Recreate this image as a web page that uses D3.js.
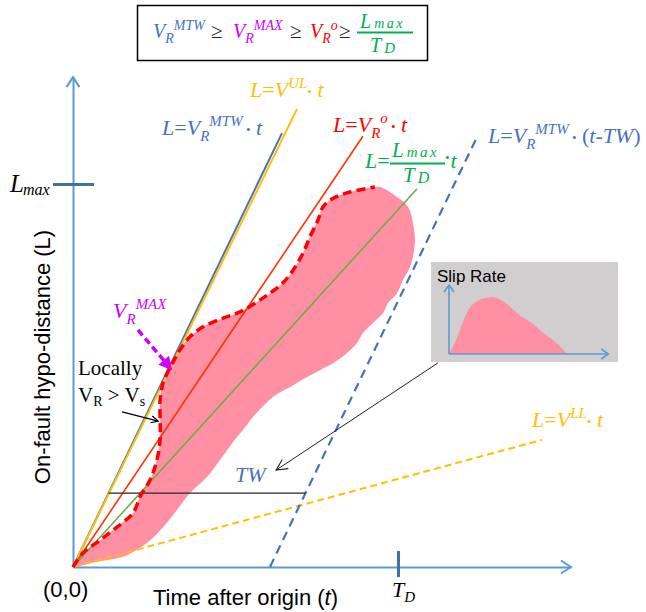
<!DOCTYPE html>
<html>
<head>
<meta charset="utf-8">
<script src="https://cdn.jsdelivr.net/npm/d3@7"></script>
<style>
  body { margin: 0; background: #fff; }
  svg { display: block; }
</style>
</head>
<body>
<svg id="chart" width="646" height="612"></svg>
<script>
// ---- Reference quantities (t in units of T_D, L in units of L_max) ----
const T_D = 1;
const L_MAX = 1;
const tAxisEnd = 1.532;
const lAxisEnd = 1.279;

// Rays L = V * t from the origin
const rayKeys  = ["MTW", "UL", "Ro", "mean", "LL"];
const raySpeed = [1.762, 1.735, 1.261, 0.933, 0.230];
const rayStopT = [0.643, 0.689, 0.892, 1.058, 1.443];

// Delayed ray L = V_R^MTW * (t - TW)
const TW = 0.606;
const delayedStopT = 1.246;
const twBarL = 0.193;

// Outline of the slipping region in the (t, L) plane;
// the first `frontLength` points form the rupture front
const ruptureT = [0, 0.031, 0.083, 0.135, 0.185, 0.206, 0.237, 0.258, 0.268, 0.268, 0.268, 0.277,
  0.308, 0.329, 0.360, 0.400, 0.462, 0.514, 0.566, 0.606, 0.646, 0.677, 0.708, 0.729, 0.754,
  0.769, 0.797, 0.852, 0.929,
  0.945, 0.997, 1.031, 1.046, 1.052, 1.037, 1.015, 0.997, 0.969, 0.954, 0.923, 0.892, 0.874,
  0.843, 0.806, 0.760, 0.720, 0.668, 0.615, 0.554, 0.535, 0.492, 0.452, 0.412, 0.360, 0.320,
  0.277, 0.228, 0.166, 0.105, 0.052];
const ruptureL = [0, 0.037, 0.070, 0.104, 0.141, 0.183, 0.227, 0.279, 0.332, 0.384, 0.436, 0.480,
  0.535, 0.567, 0.601, 0.627, 0.650, 0.666, 0.692, 0.715, 0.742, 0.775, 0.820, 0.862, 0.906,
  0.940, 0.961, 0.979, 0.992,
  0.992, 0.966, 0.940, 0.898, 0.846, 0.783, 0.749, 0.715, 0.689, 0.663, 0.637, 0.611, 0.585,
  0.559, 0.535, 0.514, 0.496, 0.470, 0.444, 0.392, 0.371, 0.326, 0.279, 0.235, 0.193, 0.149,
  0.104, 0.063, 0.031, 0.018, 0.010];
const frontLength = 29;

// Slip-rate pulse (normalised time, normalised rate)
const slipTau  = [0, 0.07, 0.15, 0.26, 0.37, 0.47, 0.60, 0.69, 0.81, 0.92, 1.0];
const slipRate = [0, 0.30, 0.72, 0.95, 1.00, 0.91, 0.68, 0.56, 0.35, 0.18, 0];
const slipTauEnd = 1.35, slipRateEnd = 1.21;

// Annotation arrows (t, L)
const vmaxArrowT = [0.200, 0.305], vmaxArrowL = [0.619, 0.514];
const localArrowT = [0.151, 0.262], localArrowL = [0.405, 0.381];
const twArrowT = [1.123, 0.625], twArrowL = [0.533, 0.253];

// ---- Styling ----
const C = {
  axis: "#5b9bd5", tick: "#41719c", blue: "#4472c4", yellow: "#ffc000",
  red: "#ff0000", redLine: "#ff3300", green: "#00b050", greenLine: "#70ad47",
  purple: "#cc00ff", pink: "#ff8fa3", gray: "#d0cece", ink: "#000"
};
const SERIF = "'Liberation Serif', 'Times New Roman', serif";
const SANS = "'Liberation Sans', Arial, sans-serif";

const svg = d3.select("#chart");
const x = d3.scaleLinear().domain([0, T_D]).range([73, 398]);
const y = d3.scaleLinear().domain([0, L_MAX]).range([567, 184]);

// text with sub/superscript parts: [string, {size, dy, up, color, ls, dx}]
function rich(parent, px, py, parts, base) {
  const t = parent.append("text").attr("x", px).attr("y", py)
    .attr("font-family", base.family || SERIF)
    .attr("font-size", base.size)
    .attr("font-style", base.italic === false ? "normal" : "italic")
    .attr("fill", base.color);
  let off = 0;
  parts.forEach(([s, o = {}]) => {
    const ts = t.append("tspan").text(s);
    const d = o.dy || 0;
    if (d - off !== 0) ts.attr("dy", d - off);
    off = d;
    if (o.size) ts.attr("font-size", o.size);
    if (o.up) ts.attr("font-style", "normal");
    if (o.color) ts.attr("fill", o.color);
    if (o.ls) ts.attr("letter-spacing", o.ls);
    if (o.dx) ts.attr("dx", o.dx);
  });
  return t;
}

function arrowHead(g, tip, from, len, half, color, width, filled) {
  const ang = Math.atan2(tip[1] - from[1], tip[0] - from[0]);
  const ux = Math.cos(ang), uy = Math.sin(ang);
  const bx = tip[0] - ux * len, by = tip[1] - uy * len;
  const p1 = [bx - uy * half, by + ux * half], p2 = [bx + uy * half, by - ux * half];
  if (filled) {
    g.append("path").attr("d", `M${p1}L${tip}L${p2}Z`).attr("fill", color);
  } else {
    g.append("path").attr("d", `M${p1}L${tip}L${p2}`).attr("fill", "none")
      .attr("stroke", color).attr("stroke-width", width).attr("stroke-linejoin", "miter");
  }
}

// ---- Slipping region ----
const rupturePts = ruptureT.map((t, i) => [t, ruptureL[i]]);
svg.append("path")
  .attr("d", d3.line().x(d => x(d[0])).y(d => y(d[1])).curve(d3.curveCatmullRomClosed)(rupturePts))
  .attr("fill", C.pink);

// ---- Axes ----
const xAxisScale = x.copy().domain([0, tAxisEnd]).range([x(0), x(tAxisEnd)]);
const yAxisScale = y.copy().domain([0, lAxisEnd]).range([y(0), y(lAxisEnd)]);

const gx = svg.append("g").attr("transform", `translate(0,${y(0)})`)
  .call(d3.axisBottom(xAxisScale).tickValues([T_D]).tickFormat(() => "").tickSizeOuter(0));
gx.select(".domain").attr("stroke", C.axis).attr("stroke-width", 2);
gx.selectAll(".tick line").attr("y1", -16).attr("y2", 10).attr("stroke", C.tick).attr("stroke-width", 3);

const gy = svg.append("g").attr("transform", `translate(${x(0)},0)`)
  .call(d3.axisLeft(yAxisScale).tickValues([L_MAX]).tickFormat(() => "").tickSizeOuter(0));
gy.select(".domain").attr("stroke", C.axis).attr("stroke-width", 2);
gy.selectAll(".tick line").attr("x1", -20).attr("x2", 21).attr("stroke", C.tick).attr("stroke-width", 3);

arrowHead(svg, [x(tAxisEnd), y(0)], [x(0), y(0)], 10, 6.5, C.axis, 2, false);
arrowHead(svg, [x(0), y(lAxisEnd)], [x(0), y(0)], 10, 6.5, C.axis, 2, false);

// ---- Rays ----
const rayStyle = {
  MTW: { color: C.blue, width: 2, dash: null },
  UL: { color: C.yellow, width: 2, dash: null },
  Ro: { color: C.redLine, width: 1.6, dash: null },
  mean: { color: C.greenLine, width: 1.6, dash: null },
  LL: { color: C.yellow, width: 2, dash: "7,4" }
};
const lineGen = d3.line().x(d => x(d[0])).y(d => y(d[1]));
rayKeys.forEach((k, i) => {
  const st = rayStyle[k];
  svg.append("path")
    .attr("d", lineGen([[0, 0], [rayStopT[i], raySpeed[i] * rayStopT[i]]]))
    .attr("fill", "none").attr("stroke", st.color).attr("stroke-width", st.width)
    .attr("stroke-dasharray", st.dash);
});

// delayed ray
const vMTW = raySpeed[0];
svg.append("path")
  .attr("d", lineGen([[TW, 0], [delayedStopT, vMTW * (delayedStopT - TW)]]))
  .attr("fill", "none").attr("stroke", C.blue).attr("stroke-width", 2.2)
  .attr("stroke-dasharray", "9,6");

// TW span between the two MTW rays
svg.append("path")
  .attr("d", lineGen([[twBarL / vMTW, twBarL], [TW + twBarL / vMTW, twBarL]]))
  .attr("stroke", "#262626").attr("stroke-width", 1.4);

// ---- Rupture front ----
svg.append("path")
  .attr("d", d3.line().x(d => x(d[0])).y(d => y(d[1])).curve(d3.curveCatmullRom)(rupturePts.slice(0, frontLength)))
  .attr("fill", "none").attr("stroke", C.red).attr("stroke-width", 3.5)
  .attr("stroke-dasharray", "9,5");

// ---- Annotation arrows ----
{
  const a = [x(vmaxArrowT[0]), y(vmaxArrowL[0])], b = [x(vmaxArrowT[1]), y(vmaxArrowL[1])];
  const ang = Math.atan2(b[1] - a[1], b[0] - a[0]);
  const bb = [b[0] - Math.cos(ang) * 10, b[1] - Math.sin(ang) * 10];
  svg.append("path").attr("d", `M${a}L${bb}`).attr("stroke", C.purple)
    .attr("stroke-width", 3.5).attr("stroke-dasharray", "7,4");
  arrowHead(svg, b, a, 13, 7, C.purple, 0, true);
}
{
  const a = [x(localArrowT[0]), y(localArrowL[0])], b = [x(localArrowT[1]), y(localArrowL[1])];
  svg.append("path").attr("d", `M${a}L${b}`).attr("stroke", C.ink).attr("stroke-width", 1.2);
  arrowHead(svg, b, a, 7, 3.5, C.ink, 1.2, false);
}
{
  const a = [x(twArrowT[0]), y(twArrowL[0])], b = [x(twArrowT[1]), y(twArrowL[1])];
  svg.append("path").attr("d", `M${a}L${b}`).attr("stroke", "#222").attr("stroke-width", 1);
  arrowHead(svg, b, a, 11, 5.5, "#222", 1.1, false);
}

// ---- Slip-rate inset ----
const inset = svg.append("g");
inset.append("rect").attr("x", 431).attr("y", 262).attr("width", 187).attr("height", 100).attr("fill", C.gray);
const sx = d3.scaleLinear().domain([0, 1]).range([449, 567]);
const sy = d3.scaleLinear().domain([0, 1]).range([354, 297]);
inset.append("path")
  .attr("d", d3.area().x((d, i) => sx(slipTau[i])).y0(sy(0)).y1((d, i) => sy(d)).curve(d3.curveMonotoneX)(slipRate))
  .attr("fill", C.pink);
inset.append("path").attr("d", `M${sx(0)},${sy(0)}H${sx(slipTauEnd)}`).attr("stroke", C.axis).attr("stroke-width", 1.6);
inset.append("path").attr("d", `M${sx(0)},${sy(0)}V${sy(slipRateEnd)}`).attr("stroke", C.axis).attr("stroke-width", 1.6);
arrowHead(inset, [sx(slipTauEnd), sy(0)], [sx(0), sy(0)], 7, 5, C.axis, 1.6, false);
arrowHead(inset, [sx(0), sy(slipRateEnd)], [sx(0), sy(0)], 7, 5, C.axis, 1.6, false);
inset.append("text").attr("x", 437).attr("y", 282).attr("font-family", SANS).attr("font-size", 17)
  .attr("fill", C.ink).text("Slip Rate");

// ---- Formula box ----
const box = svg.append("g");
box.append("rect").attr("x", 137.5).attr("y", 5.5).attr("width", 290).attr("height", 55)
  .attr("fill", "#fff").attr("stroke", "#000").attr("stroke-width", 1.5);
rich(box, 153, 38, [["V"], ["R", { size: 14, dy: 5 }], ["MTW", { size: 14, dy: -8 }]], { size: 20, color: C.blue });
rich(box, 211, 38, [["≥"]], { size: 21, color: "#222", italic: false });
rich(box, 233, 38, [["V"], ["R", { size: 14, dy: 5 }], ["MAX", { size: 14, dy: -8 }]], { size: 20, color: C.purple });
rich(box, 290, 38, [["≥"]], { size: 21, color: "#222", italic: false });
rich(box, 310, 38, [["V"], ["R", { size: 14, dy: 5 }], ["o", { size: 14, dy: -8 }]], { size: 20, color: C.red });
rich(box, 339, 38, [["≥"]], { size: 21, color: "#222", italic: false });
rich(box, 360, 28, [["L"], ["max", { size: 14, ls: 2.5, dx: 3 }]], { size: 20, color: C.green });
box.append("path").attr("d", "M357,32.5H413").attr("stroke", C.green).attr("stroke-width", 2);
rich(box, 370, 52, [["T"], ["D", { size: 15, dy: 1, dx: 3 }]], { size: 20, color: C.green });

// ---- Ray labels ----
rich(svg, 162, 135, [["L"], ["=", { up: 1 }], ["V"], ["R", { size: 15, dy: 6 }], ["MTW", { size: 15, dy: -9 }],
  [" •", { size: 13, dy: -1, up: 1 }], [" t", { dy: 0 }]], { size: 22, color: C.blue });
rich(svg, 250, 97, [["L"], ["=", { up: 1 }], ["V"], ["UL", { size: 15, dy: -9 }],
  ["•", { size: 13, dy: -1, up: 1 }], [" t", { dy: 0 }]], { size: 22, color: C.yellow });
rich(svg, 333, 132, [["L"], ["=", { up: 1 }], ["V"], ["R", { size: 15, dy: 6 }], ["o", { size: 15, dy: -9 }],
  [" •", { size: 13, dy: -1, up: 1 }], [" t", { dy: 0 }]], { size: 22, color: C.red });
// green label with fraction
rich(svg, 365, 168, [["L"], ["=", { up: 1 }]], { size: 22, color: C.green });
rich(svg, 392, 157, [["L"], ["max", { size: 15, ls: 2.5, dx: 3 }]], { size: 21, color: C.green });
svg.append("path").attr("d", "M390,163.5H445").attr("stroke", C.green).attr("stroke-width", 2.2);
rich(svg, 403, 182, [["T"], ["D", { size: 16, dy: 1, dx: 3 }]], { size: 21, color: C.green });
rich(svg, 445, 168, [["•", { size: 13, dy: -6, up: 1 }], ["t", { dy: 0, dx: 1 }]], { size: 22, color: C.green });
rich(svg, 488, 143, [["L"], ["=", { up: 1 }], ["V"], ["R", { size: 15, dy: 6 }], ["MTW", { size: 15, dy: -9 }],
  [" •", { size: 13, dy: -1, up: 1 }], [" (", { dy: 0, up: 1 }], ["t-TW"], [")", { up: 1 }]], { size: 22, color: C.blue });
rich(svg, 532, 427, [["L"], ["=", { up: 1 }], ["V"], ["LL", { size: 15, dy: -9 }],
  ["•", { size: 13, dy: -1, up: 1 }], [" t", { dy: 0 }]], { size: 22, color: C.yellow });

// ---- Other annotations ----
rich(svg, 113, 318, [["V"], ["R", { size: 15, dy: 6 }], ["MAX", { size: 15, dy: -9 }]], { size: 22, color: C.purple });
rich(svg, 235, 482, [["TW"]], { size: 22, color: C.blue });
rich(svg, 78, 375, [["Locally"]], { size: 21, color: C.ink, italic: false });
rich(svg, 78, 402, [["V"], ["R", { size: 14, dy: 4 }], [" > ", { dy: 0 }], ["V"], ["s", { size: 14, dy: 4 }]],
  { size: 21, color: C.ink, italic: false });

// axis tick labels
rich(svg, 10, 192, [["L"], ["max", { size: 16, dy: 3, dx: -1 }]], { size: 25, color: C.ink });
rich(svg, 392, 597, [["T"], ["D", { size: 15, dy: 5 }]], { size: 22, color: C.ink });
svg.append("text").attr("x", 43).attr("y", 597).attr("font-family", SANS).attr("font-size", 22)
  .attr("fill", C.ink).text("(0,0)");

// axis titles
rich(svg, 153, 605, [["Time after origin ("], ["t", { }], [")"]], { size: 22, color: C.ink, family: SANS, italic: false })
  .selectAll("tspan").filter((d, i) => i === 1).attr("font-style", "italic");
svg.append("text").attr("transform", "translate(50,357) rotate(-90)")
  .attr("text-anchor", "middle").attr("font-family", SANS).attr("font-size", 22)
  .attr("fill", C.ink).text("On-fault hypo-distance (L)");
</script>
</body>
</html>
